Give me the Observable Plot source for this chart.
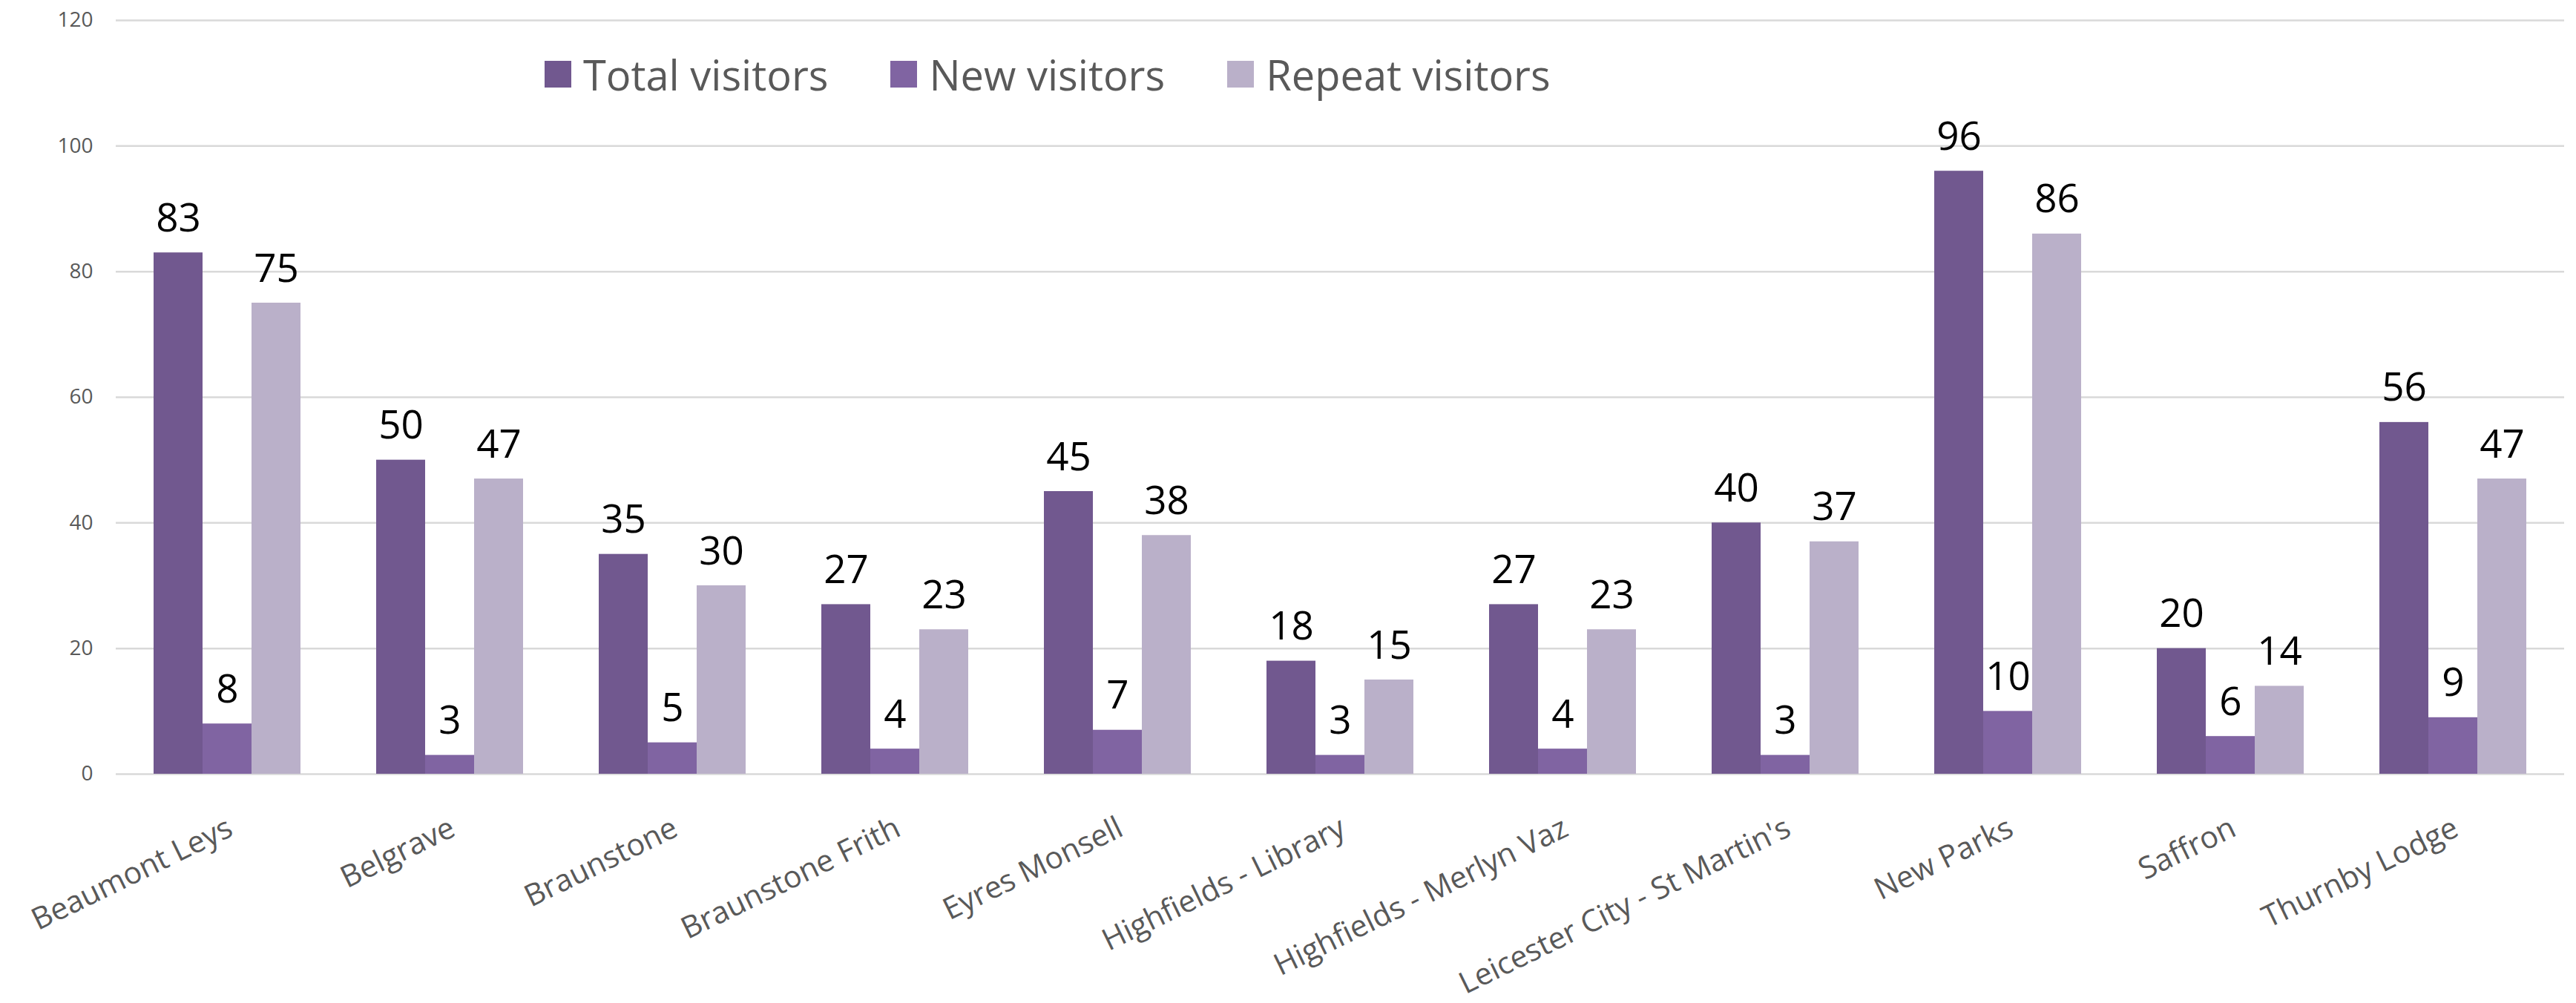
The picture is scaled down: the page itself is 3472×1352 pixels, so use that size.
<!DOCTYPE html>
<html>
<head>
<meta charset="utf-8">
<script src="https://cdn.jsdelivr.net/npm/d3@7"></script>
<script src="https://cdn.jsdelivr.net/npm/@observablehq/plot@0.6"></script>
<style>
  html, body { margin: 0; padding: 0; background: #fff; }
  #wrap { position: relative; width: 3472px; height: 1352px; }
  #legend { position: absolute; left: 734px; top: 72px; display: flex; align-items: center; gap: 84px;
            font-family: "Open Sans", sans-serif; font-size: 56px; color: #595959; line-height: 56px; }
  .item { display: flex; align-items: center; gap: 16px; }
  .sw { width: 36px; height: 36px; display: inline-block; }
</style>
</head>
<body>
<div id="wrap"><div id="legend"></div></div>
<script>
const sites = ["Beaumont Leys", "Belgrave", "Braunstone", "Braunstone Frith", "Eyres Monsell",
  "Highfields - Library", "Highfields - Merlyn Vaz", "Leicester City - St Martin's", "New Parks", "Saffron", "Thurnby Lodge"];
const seriesNames = ["Total visitors", "New visitors", "Repeat visitors"];
const totalVisitors = [83, 50, 35, 27, 45, 18, 27, 40, 96, 20, 56];
const newVisitors = [8, 3, 5, 4, 7, 3, 4, 3, 10, 6, 9];
const repeatVisitors = [75, 47, 30, 23, 38, 15, 23, 37, 86, 14, 47];
const colors = ["#71588f", "#8064a2", "#bab0c9"];
const yTicks = [0, 20, 40, 60, 80, 100, 120];

const seriesValues = [totalVisitors, newVisitors, repeatVisitors];
const rows = [];
sites.forEach((s, i) => seriesNames.forEach((n, j) => rows.push({site: s, series: n, value: seriesValues[j][i]})));

const chart = Plot.plot({
  width: 3472,
  height: 1352,
  marginTop: 27,
  marginBottom: 309,
  marginLeft: 154,
  marginRight: 15,
  style: {fontFamily: "Open Sans, sans-serif", background: "#fff"},
  fx: {domain: sites, padding: 0, axis: null},
  x: {domain: seriesNames, paddingInner: 0, paddingOuter: 0.74, axis: null},
  y: {domain: [0, 120], axis: null},
  color: {domain: seriesNames, range: colors},
  marks: [
    Plot.gridY(yTicks, {stroke: "#d9d9d9", strokeOpacity: 1, strokeWidth: 2.5}),
    Plot.axisY(yTicks, {tickSize: 0, tickPadding: 31, fontSize: 28, color: "#595959", tickFormat: d => d, label: null}),
    Plot.barY(rows, {fx: "site", x: "series", y: "value", fill: "series"}),
    Plot.text(rows, {fx: "site", x: "series", y: "value", text: d => String(d.value), dy: -29, lineAnchor: "bottom", fontSize: 53, fill: "#000"}),
    Plot.text(sites, {fx: d => d, text: d => d, frameAnchor: "bottom", dx: 4, dy: 70, rotate: -26, textAnchor: "end", lineAnchor: "middle", fontSize: 41, fill: "#595959"})
  ]
});
document.getElementById("wrap").prepend(chart);

const legend = document.getElementById("legend");
seriesNames.forEach((n, j) => {
  const it = document.createElement("div");
  it.className = "item";
  const sw = document.createElement("span");
  sw.className = "sw";
  sw.style.background = colors[j];
  const t = document.createElement("span");
  t.textContent = n;
  it.append(sw, t);
  legend.append(it);
});
</script>
</body>
</html>
